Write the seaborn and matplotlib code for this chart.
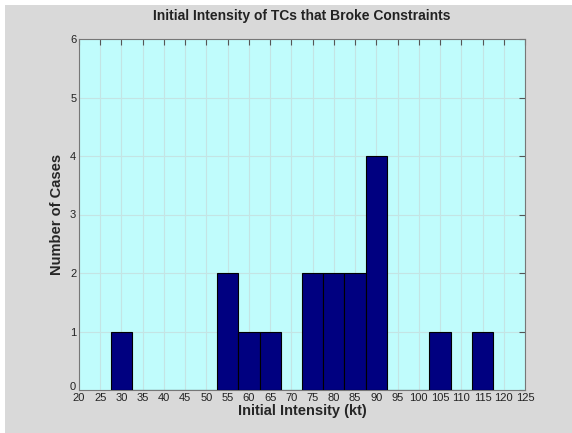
import numpy as np
import seaborn as sns
import matplotlib.pyplot as plt
import matplotlib.transforms as mtransforms
from matplotlib.patches import Rectangle

# bin centres (kt) and number of cases in each bin
intensity = [30, 55, 60, 65, 75, 80, 85, 90, 105, 115]
cases = [1, 2, 1, 1, 2, 2, 2, 4, 1, 1]
xticks = list(range(20, 130, 5))
yticks = list(range(0, 7))

sns.set_style("white")
plt.rcParams['font.family'] = ['Liberation Sans', 'DejaVu Sans']

fig = plt.figure(figsize=(5.72, 4.33), dpi=100, facecolor="white")
# grey window with thin white strip top/left, like the screenshot
fig.patches.append(Rectangle((5 / 572, 0), 1, 1 - 5 / 433, transform=fig.transFigure,
                             facecolor="#d9d9d9", edgecolor="none", zorder=-10))
ax = fig.add_axes([79 / 572, 1 - 390 / 433, (525 - 79) / 572, (390 - 39) / 433])
ax.set_facecolor("#c0fcfc")

sns.histplot(x=intensity, weights=cases, binwidth=5, binrange=(27.5, 117.5),
             color="#000080", edgecolor="black", linewidth=0.8, alpha=1, ax=ax, zorder=3)

ax.set_xlim(20, 125)
ax.set_ylim(0, 6)
ax.set_xticks(xticks)
ax.set_yticks(yticks)
ax.grid(True, color="#c4e4e4", linewidth=0.8, zorder=0)
ax.set_axisbelow(True)
ax.tick_params(direction="in", top=True, right=True, length=4, labelsize=8,
               color="#555555", labelcolor="#222222", pad=2)
for s in ax.spines.values():
    s.set_visible(True)
    s.set_color("#777777")
    s.set_linewidth(0.8)

# lift the "0" label a little so it sits above the "20" like in the original
fig.canvas.draw()
lab0 = ax.get_yticklabels()[0]
lab0.set_transform(lab0.get_transform() + mtransforms.ScaledTranslation(0, 3 / 72, fig.dpi_scale_trans))

ax.set_title("Initial Intensity of TCs that Broke Constraints", fontsize=10,
             fontweight="bold", color="#222222", pad=14)
ax.set_xlabel("Initial Intensity (kt)", fontsize=10.5, fontweight="bold", labelpad=1)
ax.set_ylabel("Number of Cases", fontsize=10.5, fontweight="bold", labelpad=4)

fig.savefig("out.png", dpi=100, facecolor=fig.get_facecolor())
